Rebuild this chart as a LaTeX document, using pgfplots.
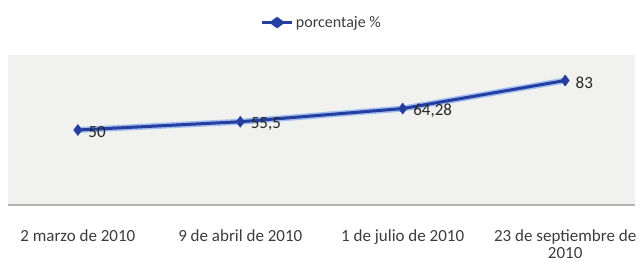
\documentclass[border=0pt]{standalone}
\usepackage{pgfplots}
\pgfplotsset{compat=1.18}
\usepackage{fontspec}
\setmainfont{Carlito}
\definecolor{lineblue}{RGB}{38,62,160}
\definecolor{glow}{RGB}{160,190,240}
\definecolor{bgc}{RGB}{241,242,240}
\definecolor{txt}{RGB}{60,60,60}
\begin{document}
\begin{tikzpicture}
\useasboundingbox (-8pt,-57pt) rectangle (634pt,205pt);
\begin{axis}[
  anchor=south west, at={(0pt,0pt)},
  scale only axis, width=627pt, height=150pt,
  xmin=-0.43, xmax=3.43, ymin=0, ymax=100,
  axis background/.style={fill=bgc},
  axis line style={draw=none},
  axis x line*=bottom,
  y axis line style={draw=none},
  ytick=\empty,
  xtick={0,1,2,3}, major tick length=0pt,
  xticklabels={2 marzo de 2010, 9 de abril de 2010, 1 de julio de 2010, {23 de septiembre de\\2010}},
  xticklabel style={font=\fontsize{17}{17}\selectfont, text=txt, align=center, anchor=north, yshift=-21pt},
  legend style={at={(0.5,1)}, anchor=south, yshift=22pt, draw=none, fill=none, font=\fontsize{16}{18}\selectfont, text=txt},
  legend image post style={xscale=1.8},
  clip=false,
]
\draw[gray!60, line width=1.2pt] (axis cs:-0.43,0) -- (axis cs:3.43,0);
\addplot[glow, line width=6pt, forget plot] coordinates {(0,50) (1,55.5) (2,64.28) (3,83)};
\addplot[lineblue, line width=3pt, mark=diamond*, mark size=5.5pt, mark options={fill=lineblue, line width=0.5pt},
  nodes near coords, point meta=explicit symbolic,
  every node near coord/.style={anchor=west, xshift=7pt, yshift=-2pt, font=\fontsize{17}{18}\selectfont, text=black!85}]
  coordinates {(0,50)[50] (1,55.5)[55,5] (2,64.28)[64,28] (3,83)[83]};
\addlegendentry{porcentaje \%}
\end{axis}
\end{tikzpicture}
\end{document}
